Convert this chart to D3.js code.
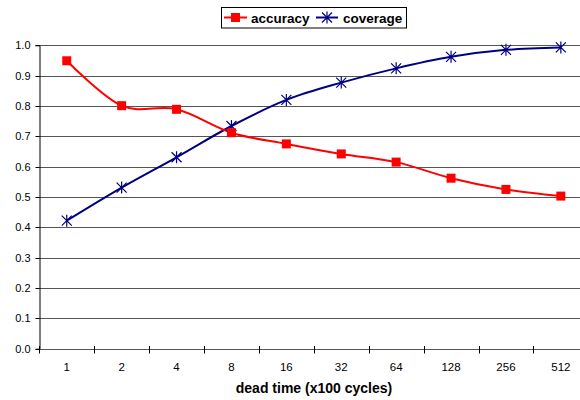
<!DOCTYPE html>
<html>
<head>
<meta charset="utf-8">
<script src="https://cdn.jsdelivr.net/npm/d3@7"></script>
<style>
  body { margin: 0; background: #fff; }
  svg { display: block; font-family: "Liberation Sans", Arial, sans-serif; }
  .tick text { font-size: 11px; fill: #000; }
</style>
</head>
<body>
<div id="chart"></div>
<script>
// chart data
const categories = ["1", "2", "4", "8", "16", "32", "64", "128", "256", "512"];
const accuracy = [0.949, 0.801, 0.789, 0.712, 0.675, 0.642, 0.615, 0.562, 0.525, 0.503];
const coverage = [0.422, 0.531, 0.631, 0.734, 0.820, 0.877, 0.924, 0.962, 0.985, 0.993];
const yTicks = [0, 0.1, 0.2, 0.3, 0.4, 0.5, 0.6, 0.7, 0.8, 0.9, 1.0];

const W = 580, H = 400;
// plot area runs past the right edge of the picture, as in the reference
const plot = { left: 39.3, right: 588.3, top: 45.3, bottom: 348.7 };

const svg = d3.select("#chart").append("svg")
  .attr("width", W).attr("height", H);

const x = d3.scaleBand().domain(categories).range([plot.left, plot.right]);
const y = d3.scaleLinear().domain([0, 1]).range([plot.bottom, plot.top]);

// horizontal gridlines
svg.append("g")
  .selectAll("line")
  .data(yTicks.slice(1))
  .join("line")
  .attr("x1", plot.left).attr("x2", plot.right)
  .attr("y1", d => Math.round(y(d)) + 0.5).attr("y2", d => Math.round(y(d)) + 0.5)
  .attr("stroke", "#555").attr("stroke-width", 1);

// y axis
const yAxis = svg.append("g")
  .attr("transform", "translate(" + (Math.round(plot.left) + 0.5) + ",0)")
  .call(d3.axisLeft(y).tickValues(yTicks).tickFormat(d3.format(".1f")).tickSize(4).tickPadding(5));
yAxis.select(".domain").attr("stroke", "#000");
yAxis.selectAll(".tick line").attr("stroke", "#000");
yAxis.selectAll(".tick").attr("transform", d => "translate(0," + (Math.round(y(d)) + 0.5) + ")");

// x axis (ticks between categories, crossing the axis line)
const xBounds = d3.range(categories.length + 1).map(i => plot.left + i * x.bandwidth());
const xAxisY = Math.round(plot.bottom) + 0.5;
const xg = svg.append("g");
xg.append("line")
  .attr("x1", plot.left).attr("x2", plot.right)
  .attr("y1", xAxisY).attr("y2", xAxisY)
  .attr("stroke", "#555");
xg.selectAll("line.xt")
  .data(xBounds)
  .join("line")
  .attr("class", "xt")
  .attr("x1", d => Math.round(d) + 0.5).attr("x2", d => Math.round(d) + 0.5)
  .attr("y1", xAxisY - 3.5).attr("y2", xAxisY + 4)
  .attr("stroke", "#000");
xg.selectAll("text")
  .data(categories)
  .join("text")
  .attr("x", d => x(d) + x.bandwidth() / 2)
  .attr("y", 371)
  .attr("text-anchor", "middle")
  .style("font-size", "11.5px")
  .text(d => d);

svg.append("text")
  .attr("x", 314).attr("y", 393)
  .attr("text-anchor", "middle")
  .style("font-size", "14px").style("font-weight", "bold")
  .text("dead time (x100 cycles)");

// series
const cx = (d, i) => x(categories[i]) + x.bandwidth() / 2;
const line = d3.line().x(cx).y(d => y(d)).curve(d3.curveCardinal.tension(0));

svg.append("path").datum(coverage)
  .attr("d", line).attr("fill", "none")
  .attr("stroke", "#000080").attr("stroke-width", 2);
svg.append("path").datum(accuracy)
  .attr("d", line).attr("fill", "none")
  .attr("stroke", "#ff0000").attr("stroke-width", 2);

function star(g, px, py, r) {
  g.append("path")
    .attr("d", `M${px - r},${py - r}L${px + r},${py + r}M${px - r},${py + r}L${px + r},${py - r}M${px},${py - r - 1}L${px},${py + r + 1}`)
    .attr("stroke", "#000080").attr("stroke-width", 1.2).attr("fill", "none");
}

const covMarks = svg.append("g");
coverage.forEach((d, i) => star(covMarks, cx(d, i), y(d), 5));

svg.append("g")
  .selectAll("rect")
  .data(accuracy)
  .join("rect")
  .attr("x", (d, i) => cx(d, i) - 4.5)
  .attr("y", d => y(d) - 4.5)
  .attr("width", 9).attr("height", 9)
  .attr("fill", "#ff0000");

// legend
const lg = svg.append("g");
lg.append("rect")
  .attr("x", 221.5).attr("y", 7.5).attr("width", 185).attr("height", 20.5)
  .attr("fill", "#fff").attr("stroke", "#000");
lg.append("line").attr("x1", 224).attr("x2", 247).attr("y1", 17.5).attr("y2", 17.5)
  .attr("stroke", "#ff0000").attr("stroke-width", 2);
lg.append("rect").attr("x", 231).attr("y", 13).attr("width", 9).attr("height", 9)
  .attr("fill", "#ff0000");
lg.append("text").attr("x", 251).attr("y", 22.5)
  .style("font-size", "13.5px").style("font-weight", "bold").text("accuracy");
lg.append("line").attr("x1", 316).attr("x2", 338).attr("y1", 17.5).attr("y2", 17.5)
  .attr("stroke", "#000080").attr("stroke-width", 2);
star(lg, 327, 17.5, 5);
lg.append("text").attr("x", 343).attr("y", 22.5)
  .style("font-size", "13.5px").style("font-weight", "bold").text("coverage");
</script>
</body>
</html>
